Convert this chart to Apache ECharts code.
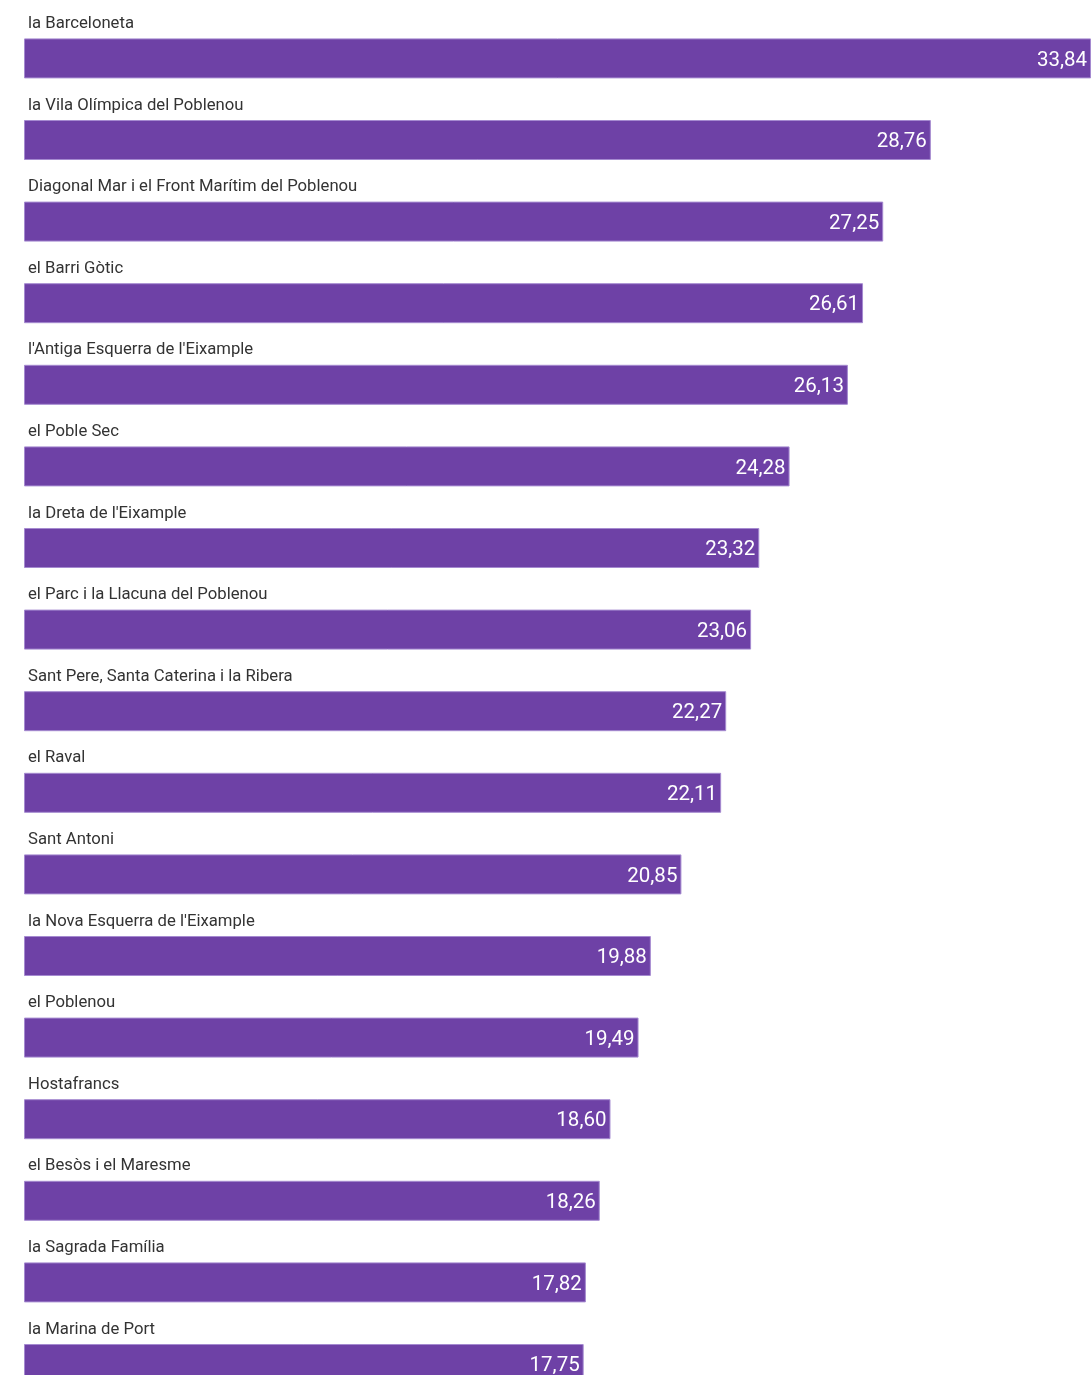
<!DOCTYPE html>
<html><head><meta charset="utf-8">
<script src="https://cdn.jsdelivr.net/npm/echarts@6/dist/echarts.min.js"></script>
<style>html,body{margin:0;padding:0;background:#fff;overflow:hidden}#c{width:1091px;height:1405px}</style>
</head><body><div id="c"></div>
<script>
const categories = ["la Barceloneta","la Vila Olímpica del Poblenou","Diagonal Mar i el Front Marítim del Poblenou","el Barri Gòtic","l'Antiga Esquerra de l'Eixample","el Poble Sec","la Dreta de l'Eixample","el Parc i la Llacuna del Poblenou","Sant Pere, Santa Caterina i la Ribera","el Raval","Sant Antoni","la Nova Esquerra de l'Eixample","el Poblenou","Hostafrancs","el Besòs i el Maresme","la Sagrada Família","la Marina de Port"];
const values = [33.84,28.76,27.25,26.61,26.13,24.28,23.32,23.06,22.27,22.11,20.85,19.88,19.49,18.60,18.26,17.82,17.75];
const fmt = v => v.toFixed(2).replace('.', ',');
const chart = echarts.init(document.getElementById('c'), null, {renderer:'canvas'});
chart.setOption({
  animation:false,
  grid:{left:24,right:0,top:17.6,height:17*81.6,containLabel:false},
  xAxis:{type:'value',min:0,max:33.84,show:false},
  yAxis:{type:'category',data:categories,inverse:true,show:false},
  series:[
    {type:'bar',data:values,barWidth:40,barGap:'-100%',
     itemStyle:{color:'#6e41a6',borderColor:'#a58ad0',borderWidth:1},
     label:{show:true,position:'insideRight',distance:4,offset:[0,2],color:'#ffffff',fontFamily:'Roboto',fontSize:20.5,
       formatter:p=>fmt(p.value)}},
    {type:'bar',data:values,barWidth:40,barGap:'-100%',silent:true,
     itemStyle:{color:'rgba(0,0,0,0)'},
     label:{show:true,position:[4,-23],color:'#333333',fontFamily:'Roboto',fontSize:16.7,
       formatter:p=>p.name}}
  ]
});
</script></body></html>
